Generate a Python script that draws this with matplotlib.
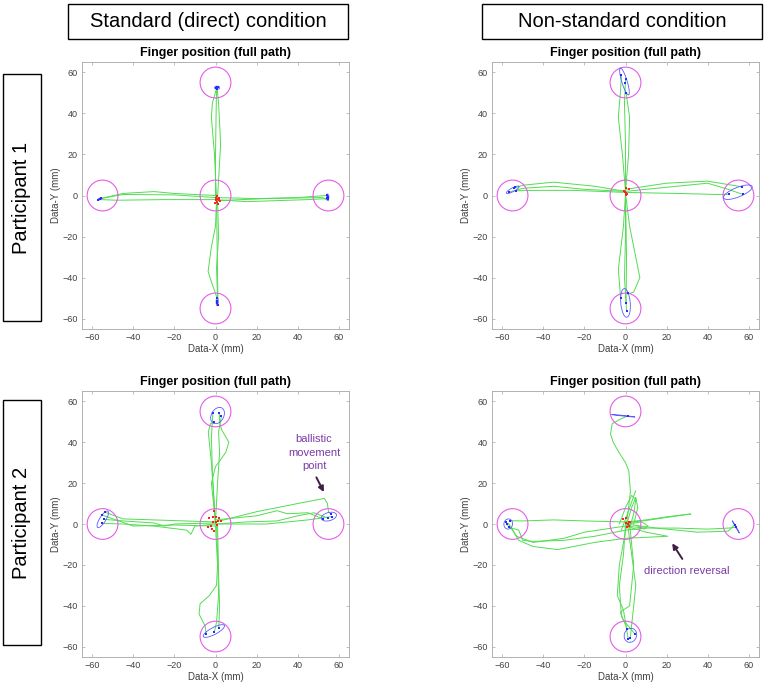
import matplotlib
matplotlib.use("Agg")
import matplotlib.pyplot as plt
from matplotlib.patches import Circle, Ellipse, Rectangle

plt.rcParams['font.family'] = ['Liberation Sans', 'DejaVu Sans']

# ---------------- data ----------------
targets = [(0, 0), (0, 55), (0, -55), (-55, 0), (55, 0)]
target_radius = 7.5
ticks = [-60, -40, -20, 0, 20, 40, 60]
col_titles = ["Standard (direct) condition", "Non-standard condition"]
row_titles = ["Participant 1", "Participant 2"]
panel_title = "Finger position (full path)"

# Panel A: participant 1, standard
pathsA = [
    [(0.5, -1), (-0.5, 20), (-2, 38), (-1.5, 45), (0.5, 52)],
    [(1, -1), (2.5, 25), (1.5, 45), (0.8, 52)],
    [(0, -2), (0, 20), (0.3, 40), (0.5, 52)],
    [(0.5, -2), (0, -15), (-2, -25), (-3.6, -37), (-2, -42), (0.8, -50)],
    [(1, -2), (1.5, -20), (0.5, -35), (1, -50)],
    [(0.5, -3), (0.8, -25), (1.2, -52)],
    [(0, 0), (-20, 1), (-30, 1.9), (-45, 1), (-56, -1.5)],
    [(0, -1), (-20, 0.3), (-45, 0.5), (-56, -1.5)],
    [(0, -2), (-25, -2), (-48, -2.3), (-56, -2)],
    [(0, -1), (20, -1.5), (40, -1), (54, 0)],
    [(0, -2), (15, -3), (30, -2.5), (45, -2), (55, -1.5)],
    [(1, -2.5), (25, -1.5), (52, -1), (55, -2.5)],
]
ellA = [(0.8, 52.5, 2.5, 1.5, 0), (0.8, -51.7, 1.0, 4.0, 0),
        (-56.3, -1.7, 2.2, 0.8, 20), (54.6, -0.8, 1.2, 3.0, 0)]
endA = [(0.3, 52.1), (0.9, 52.6), (1.4, 52.9), (0.5, 51.8),
        (-57, -2), (-56.2, -1.6), (-55.7, -1.4),
        (54.4, 0.2), (54.6, -0.8), (54.9, -1.6), (54.3, -1.2),
        (0.8, -50), (0.9, -51.5), (0.8, -52.5), (1.0, -53.4)]
startA = [(0.8, -0.2), (0, -1), (1.5, -1), (0.3, -2), (1.8, -2.2), (0.8, -3),
          (-0.3, -3.5), (1.2, -4), (2.4, -2.5), (0.5, -1.5)]

# Panel B: participant 1, non-standard
pathsB = [
    [(0, 2), (-1.5, 20), (-3.5, 38), (-2.5, 50), (-2, 58)],
    [(0, 2), (1.5, 20), (2, 38), (0.3, 50)],
    [(0, 2), (0, 25), (-0.5, 45), (0, 56)],
    [(0, 1), (2, -15), (5, -30), (7, -40), (4, -47), (1, -48)],
    [(0, 1), (-1, -15), (-3.5, -36), (-3, -42), (-2.4, -50)],
    [(0, 1), (0, -20), (-0.5, -40), (0.5, -56)],
    [(0, 1), (0.5, -30), (0.3, -52)],
    [(0, 2), (-15, 4.5), (-35, 6.5), (-50, 5), (-54, 3.6)],
    [(0, 2), (-20, 3), (-35, 4.5), (-50, 3.5), (-56.8, 1.6)],
    [(0, 1.5), (-25, 2.5), (-45, 2.5), (-53.2, 2.3)],
    [(0, 3), (20, 6), (40, 7), (52, 5), (56.8, 4.2)],
    [(0, 2), (20, 4), (40, 6), (50, 3), (57, 0.6)],
    [(0, 1.5), (25, 1), (45, 0.5), (50.6, 0.6)],
]
ellB = [(-0.5, 55.5, 13.6, 2.6, 107), (-54.9, 2.8, 7.0, 1.8, 28),
        (54.7, 1.6, 15.0, 4.6, 22), (0.0, -52.3, 14.0, 4.6, 95)]
endB = [(-2.1, 58.9), (0, 56.5), (-0.2, 54.9), (0.3, 49.8),
        (-56.8, 1.6), (-54.2, 3.6), (-53.9, 3.9), (-53.2, 2.3),
        (50.6, 0.6), (56.8, 4.2), (57.1, 0.6),
        (-2.4, -50), (1, -47.6), (0.3, -52.4), (0.5, -56)]
startB = [(0, 3.6), (-0.6, 2.4), (0, 1.3), (0.6, 0.8), (1.6, 3.2), (-0.3, 1.8), (0.4, 0.3)]

# Panel C: participant 2, standard
pathsC = [
    [(0, 0), (-1, 15), (-2, 30), (-3.5, 45), (-2.5, 49), (-0.6, 49.8)],
    [(0, 1), (-2, 20), (0, 28), (5, 35), (6.5, 40), (3, 46), (1.9, 50), (1.9, 54)],
    [(0, 1), (1, 20), (2, 35), (1.5, 45), (2.9, 52.9)],
    [(0, 0), (-1.5, 25), (-2, 42), (-1.3, 54)],
    [(0, -1), (1, -20), (0.5, -30), (-3, -35), (-7.5, -39), (-8, -44), (-5, -50), (-4.5, -53.9)],
    [(0.5, -1), (1.2, -20), (1.5, -35), (0.5, -48), (-0.6, -52.9)],
    [(1, 0), (1.5, -25), (2, -40), (1.6, -51)],
    [(0, 0), (-10, -1), (-12, -5), (-14, -3), (-30, -1), (-45, 0), (-55.5, 0.3)],
    [(0, 1), (-15, 1.5), (-30, 2), (-45, 2.5), (-53.6, 5.7)],
    [(0, 0.5), (-20, 0), (-25, -1), (-30, 0.5), (-45, 1.5), (-54.5, 2.3)],
    [(0, -1), (-20, -0.5), (-40, -1), (-55.5, 4.5)],
    [(0, 1), (20, 6), (40, 10), (53, 12.5), (54.5, 10), (55, 6), (56, 4.9)],
    [(0, 2), (20, 4), (30, 6.5), (35, 5), (45, 5.5), (52.3, 2.6)],
    [(0, 0), (15, 1), (30, 1.5), (40, 4), (48, 5.5), (54.9, 2.8)],
    [(0, 0), (25, 0), (45, 2), (56.5, 3.6)],
]
ellC = [(1.0, 53.0, 8.5, 6.0, 60), (-54.9, 2.3, 9.4, 3.0, 58),
        (55.2, 3.6, 7.6, 4.0, 15), (-0.8, -52.3, 11.6, 3.4, 28)]
endC = [(-1.3, 54.2), (1.9, 54.2), (2.9, 52.9), (-0.6, 49.8),
        (-55.5, 4.5), (-53.6, 5.7), (-54.5, 2.3), (-55.5, 0.3),
        (52.3, 2.6), (56, 4.9), (56.5, 3.6), (54.9, 2.8),
        (-4.5, -53.9), (-0.6, -52.9), (1.6, -51)]
startC = [(-3.2, 2.8), (-1.3, 3.6), (0, 3.6), (1.6, 2.9), (2.9, 1.6), (-0.8, 6.2),
          (-2.4, -0.8), (-3.6, -1.3), (-1.3, 0.8), (0, 1.1), (0.8, -0.3),
          (-1.9, -2.3), (1.3, 1.6), (-0.5, -3.2)]

# Panel D: participant 2, non-standard
pathsD = [
    [(1, 52.8), (-3, 51), (-6.5, 49), (-7.3, 44), (-6, 40), (-3.2, 35), (0, 30),
     (1.6, 26), (2.4, 16), (1.5, 8), (0.5, 0)],
    [(-2, -3), (1, 5), (4.9, 16.2)],
    [(0, -2), (3, 8), (5, 13), (6, 8), (4, 0)],
    [(-3, 0), (0, 8), (3, 14), (5, 12), (4, 5), (2, -2)],
    [(0, 0), (-1, -15), (-3, -30), (-2, -45), (0.8, -51)],
    [(1, 0), (3, -15), (5, -30), (4, -40), (2.3, -55.8)],
    [(0.5, -1), (-3, -20), (-4, -35), (-1, -42), (1.3, -56)],
    [(2, 0), (4, -20), (2, -40), (-2.5, -43), (-1, -47), (4.5, -53.6)],
    [(0, 1), (-20, 1.5), (-35, 2), (-50, 1.5), (-56, 1.6)],
    [(-56.8, -1.6), (-52, -3), (-50, -8), (-45, -8.5), (-30, -8), (-15, -6), (0, -3), (10, -2)],
    [(-58, 0), (-55, -3), (-52, -8), (-45, -11), (-33, -12.5), (-15, -9), (0, -7),
     (10, -6.5), (20.6, -6), (10, -4), (0, -1)],
    [(-57, 0.3), (-53, -6), (-45, -9), (-30, -7), (-20, -4), (0, -1)],
    [(0, 0), (15, -2), (35, -4), (50, -3.5), (53.2, -0.3)],
    [(0, 1), (10, 2), (20, 3.5), (31.7, 4.9)],
    [(0, 0.5), (12, 2), (22, 3.5), (31.7, 4.9)],
    [(0, -1), (10, -2), (25, -2), (40, -2.5), (50, -2), (53.9, -1.6)],
    [(0, 0), (8, 1), (11, -1), (9, -2.5), (6, -1)],
]
ellD = [(-1.1, 52.9, 11.5, 0.3, -6), (-57.1, 0.0, 5.0, 4.2, 80),
        (53.7, -1.4, 7.0, 0.3, -60), (2.4, -54.4, 7.0, 6.0, 70)]
endD = [(1, 52.8), (-58.1, 0.8), (-56, 1.6), (-56.8, -1.6), (-57.8, 0),
        (53.2, -0.3), (53.9, -1.6),
        (0.8, -51.1), (1.3, -56), (2.3, -55.8), (4.5, -53.6)]
startD = [(-1.1, 2.4), (0.3, 2.8), (0, 0.3), (1.3, 0), (1.9, -0.8), (0.8, -1.6), (1.6, 1.1), (2.2, 1.2)]

panels = [(pathsA, ellA, endA, startA), (pathsB, ellB, endB, startB),
          (pathsC, ellC, endC, startC), (pathsD, ellD, endD, startD)]

# ---------------- figure ----------------
W, H = 767, 684
fig = plt.figure(figsize=(W / 100, H / 100), dpi=100)

def fr(x0, y0, x1, y1):
    return [x0 / W, 1 - y1 / H, (x1 - x0) / W, (y1 - y0) / H]

axes_px = [(82, 62, 349, 329), (492, 62, 759, 329),
           (82, 391, 349, 657), (492, 391, 759, 657)]

green = '#52dc52'
magenta = '#e65ce6'
blue = '#2a2aff'
axis_grey = '#a6a6a6'
label_grey = '#404040'

axs = []
for (px, (paths, ells, ends, starts)) in zip(axes_px, panels):
    ax = fig.add_axes(fr(*px))
    axs.append(ax)
    for p in paths:
        xs = [q[0] for q in p]
        ys = [q[1] for q in p]
        ax.plot(xs, ys, color=green, lw=0.7, zorder=2)
    for (cx, cy) in targets:
        ax.add_patch(Circle((cx, cy), target_radius, fill=False, ec=magenta, lw=0.8, zorder=3))
    for (cx, cy, w, h, a) in ells:
        ax.add_patch(Ellipse((cx, cy), w, h, angle=a, fill=False, ec='#5a5aff', lw=0.6, zorder=4))
    ax.plot([q[0] for q in ends], [q[1] for q in ends], 's', color=blue, ms=1.6, mew=0, zorder=5)
    ax.plot([q[0] for q in starts], [q[1] for q in starts], 's', color='#ff2020', ms=1.8, mew=0, zorder=5)
    ax.set_xlim(-65, 65)
    ax.set_ylim(-65, 65)
    ax.set_xticks(ticks)
    ax.set_yticks(ticks)
    ax.tick_params(direction='in', length=2.5, width=0.5, top=True, right=True,
                   labelsize=6.5, colors=axis_grey, labelcolor=label_grey, pad=3)
    for s in ax.spines.values():
        s.set_color(axis_grey)
        s.set_linewidth(0.6)
    ax.set_title(panel_title, fontsize=9, fontweight='bold', pad=4)
    ax.set_xlabel('Data-X (mm)', fontsize=7, color=label_grey, labelpad=1)
    ax.set_ylabel('Data-Y (mm)', fontsize=7, color=label_grey, labelpad=1)

# annotations
axs[2].annotate('', xy=(53.4, 14.4), xytext=(48.5, 24.0),
                arrowprops=dict(arrowstyle='-|>', color='#3f1f44', lw=1.4, mutation_scale=8))
axs[2].text(48.0, 34.8, 'ballistic\nmovement\npoint', color='#7a3aa8', fontsize=8,
            ha='center', va='center', linespacing=1.45)
axs[3].annotate('', xy=(22.0, -8.3), xytext=(28.4, -18.2),
                arrowprops=dict(arrowstyle='-|>', color='#3f1f44', lw=1.4, mutation_scale=8))
axs[3].text(30.0, -22.8, 'direction reversal', color='#7a3aa8', fontsize=8,
            ha='center', va='center')

# header boxes
boxes_col = [(68, 4, 348, 39), (482, 4, 762, 39)]
for (x0, y0, x1, y1), t in zip(boxes_col, col_titles):
    fig.patches.append(Rectangle((x0 / W, 1 - y1 / H), (x1 - x0) / W, (y1 - y0) / H,
                                 transform=fig.transFigure, fill=False, ec='black', lw=1.0))
    fig.text((x0 + x1) / 2 / W, 1 - (y0 + y1) / 2 / H, t, fontsize=14.5,
             ha='center', va='center')

boxes_row = [(3, 74, 41, 321), (3, 400, 41, 645)]
for (x0, y0, x1, y1), t in zip(boxes_row, row_titles):
    fig.patches.append(Rectangle((x0 / W, 1 - y1 / H), (x1 - x0) / W, (y1 - y0) / H,
                                 transform=fig.transFigure, fill=False, ec='black', lw=1.0))
    fig.text((x0 + x1) / 2 / W, 1 - (y0 + y1) / 2 / H, t, fontsize=14.5,
             ha='center', va='center', rotation=90)

fig.savefig('out.png', dpi=100)
